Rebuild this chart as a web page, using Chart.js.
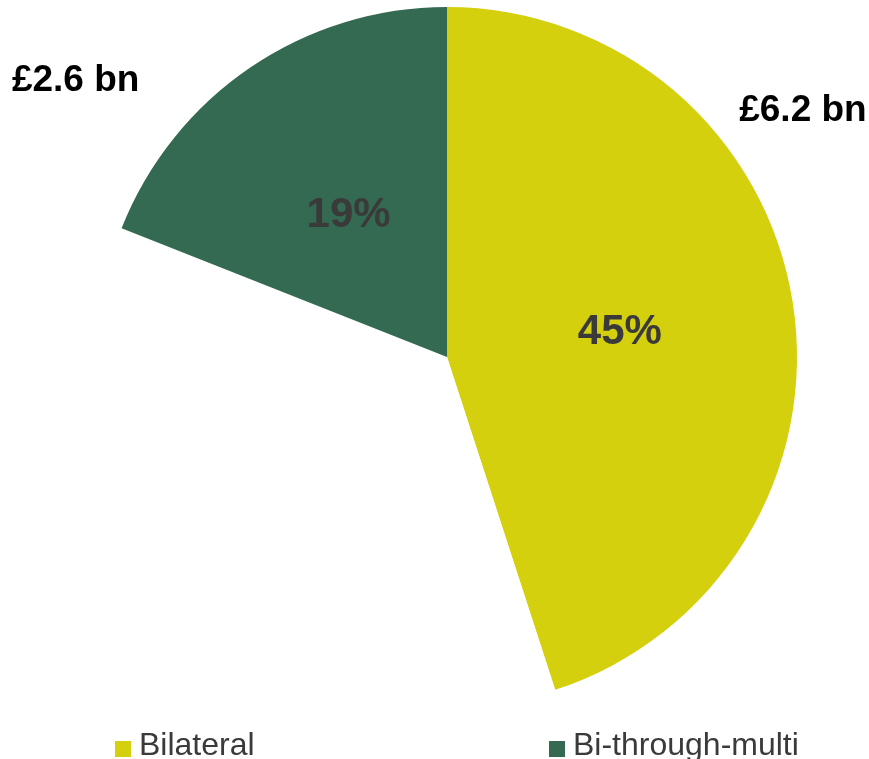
<!DOCTYPE html>
<html>
<head>
<meta charset="utf-8">
<script src="https://cdn.jsdelivr.net/npm/chart.js@4"></script>
<style>
  html, body { margin: 0; padding: 0; background: #fff; }
  #wrap { position: relative; width: 869px; height: 759px; }
  #legend { position: absolute; left: 115px; top: 726px; display: flex; font-family: "Liberation Sans", Arial, sans-serif; font-size: 32px; color: #3a3a3a; }
  .item { width: 434px; display: flex; align-items: center; white-space: nowrap; }
  .box { width: 16px; height: 16px; margin-right: 8px; margin-top: 8px; }
</style>
</head>
<body>
<div id="wrap">
  <canvas id="myChart" width="869" height="759"></canvas>
  <div id="legend"></div>
</div>
<script>
// доли расходов, %
let categories = ['Bilateral', 'Multilateral', 'Bi-through-multi'];
let shares = [45, 36, 19];
let amounts = ['£6.2 bn', '', '£2.6 bn'];
let colors = ['#d4d00e', '#ffffff', '#346a52'];
let inLegend = [true, false, true];

// подписи сумм снаружи круга: сдвиг от центра в долях радиуса
let amountPos = [[1.017, -0.703], null, [-1.061, -0.788]];

var labelsPlugin = {
    id: 'sliceLabels',
    afterDatasetsDraw(chart) {
        let ctx = chart.ctx;
        let meta = chart.getDatasetMeta(0);
        ctx.save();
        ctx.textAlign = 'center';
        ctx.textBaseline = 'middle';
        meta.data.forEach(function (arc, i) {
            if (!inLegend[i]) return;
            let p = arc.tooltipPosition();
            ctx.fillStyle = '#3a3a3a';
            ctx.font = 'bold 42px "Liberation Sans", Arial, sans-serif';
            ctx.fillText(shares[i] + '%', p.x, p.y + 3);
            let off = amountPos[i];
            ctx.fillStyle = '#000';
            ctx.font = 'bold 37px "Liberation Sans", Arial, sans-serif';
            ctx.fillText(amounts[i], arc.x + off[0] * arc.outerRadius, arc.y + off[1] * arc.outerRadius);
        });
        ctx.restore();
    }
};

var canvas = document.getElementById('myChart');
var ctx = canvas.getContext('2d');
var myChart = new Chart(ctx, {
    type: 'pie',
    data: {
        labels: categories,
        datasets: [{
            data: shares,
            backgroundColor: colors,
            borderWidth: 0
        }]
    },
    options: {
        responsive: false,
        animation: false,
        layout: { padding: { left: 97, right: 72, top: 7, bottom: 52 } },
        plugins: {
            legend: { display: false },
            tooltip: { enabled: false }
        }
    },
    plugins: [labelsPlugin]
});

// легенда под диаграммой
let legendHtml = '';
for (let i = 0; i < categories.length; i++) {
    if (!inLegend[i]) continue;
    legendHtml += '<div class="item"><span class="box" style="background:' + colors[i] + '"></span>' + categories[i] + '</div>';
}
document.getElementById('legend').innerHTML = legendHtml;
</script>
</body>
</html>
